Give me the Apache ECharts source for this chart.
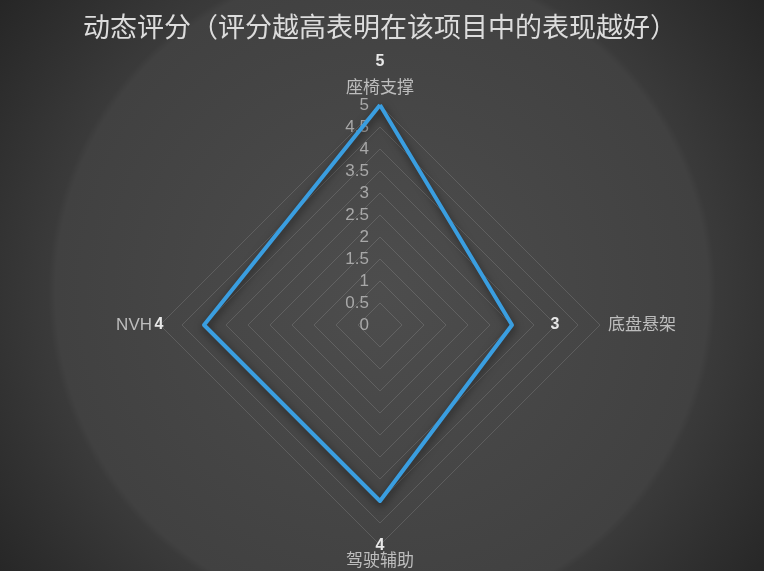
<!DOCTYPE html>
<html>
<head>
<meta charset="utf-8">
<script src="https://cdn.jsdelivr.net/npm/echarts@6/dist/echarts.min.js"></script>
<style>
html,body{margin:0;padding:0;background:#333;}
#main{width:764px;height:571px;}
</style>
</head>
<body>
<div id="main"></div>
<script>
var titleText = '动态评分（评分越高表明在该项目中的表现越好）';
// ECharts radar runs counter-clockwise from the top: top, left, bottom, right
var indicatorNames = ['座椅支撑', 'NVH', '驾驶辅助', '底盘悬架'];
var indicatorMax = 5;
var scores = [5, 4, 4, 3];
var labelStyles = ['t', 'l', 'b', 'r'];

var chart = echarts.init(document.getElementById('main'));
var indicators = indicatorNames.map(function (n, i) {
  var o = { name: n, max: indicatorMax, min: 0 };
  if (i !== 0) o.axisLabel = { show: false };
  return o;
});
var valFont = { color: '#e8e8e8', fontSize: 16, fontWeight: 'bold', fontFamily: 'Liberation Sans, Arial, sans-serif' };
chart.setOption({
  backgroundColor: {
    type: 'radial', x: 382, y: 292, r: 480, global: true,
    colorStops: [
      { offset: 0, color: '#4d4d4d' },
      { offset: 0.68, color: '#414141' },
      { offset: 0.695, color: '#3a3a3a' },
      { offset: 1, color: '#262626' }
    ]
  },
  title: {
    text: titleText,
    left: 78,
    top: 8,
    textStyle: { color: '#dcdcdc', fontSize: 27, fontWeight: 'normal', fontFamily: 'Noto Sans CJK SC' }
  },
  radar: {
    center: [380, 325],
    radius: 220,
    startAngle: 90,
    shape: 'polygon',
    splitNumber: 10,
    nameGap: 8,
    axisName: {
      color: '#bdbdbd',
      fontSize: 17,
      fontFamily: 'Liberation Sans, Noto Sans CJK SC, sans-serif'
    },
    indicator: indicators,
    axisLine: { show: false },
    axisTick: { show: false },
    axisLabel: {
      show: true,
      color: '#a8a8a8',
      fontSize: 17,
      margin: 11,
      fontFamily: 'Liberation Sans, Arial, sans-serif'
    },
    splitLine: { lineStyle: { color: 'rgba(255,255,255,0.13)', width: 1 } },
    splitArea: { show: false }
  },
  series: [{
    type: 'radar',
    symbol: 'circle',
    symbolSize: 1,
    lineStyle: {
      color: '#3a9ee0', width: 4,
      shadowColor: 'rgba(0,0,0,0.55)', shadowBlur: 8, shadowOffsetX: 1, shadowOffsetY: 3
    },
    itemStyle: { color: '#3a9ee0' },
    label: {
      show: true,
      position: 'inside',
      formatter: function (p) {
        var k = labelStyles[p.dimensionIndex];
        return '{' + k + '|' + p.value + '}';
      },
      rich: {
        t: Object.assign({ padding: [0, 0, 86, 0] }, valFont),
        r: Object.assign({ padding: [0, 0, 0, 86] }, valFont),
        b: Object.assign({ padding: [90, 0, 0, 0] }, valFont),
        l: Object.assign({ padding: [0, 90, 0, 0] }, valFont)
      }
    },
    data: [{ value: scores, name: '动态评分' }]
  }]
});
</script>
</body>
</html>
